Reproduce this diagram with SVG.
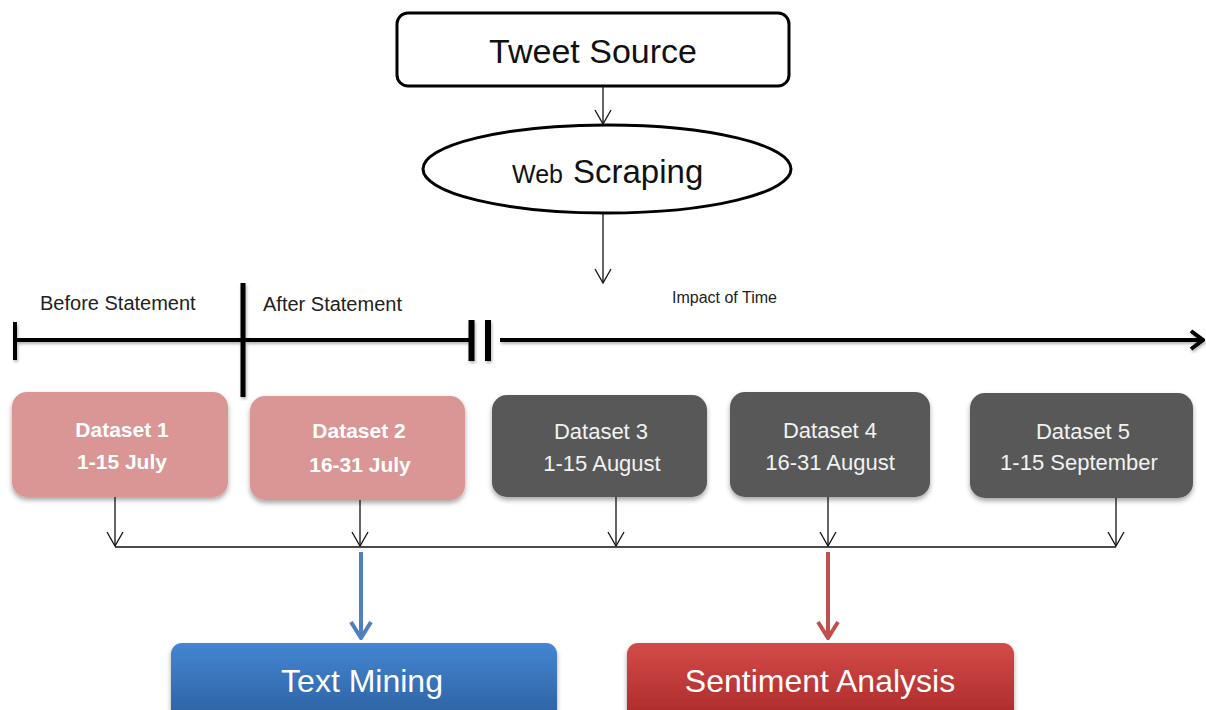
<svg xmlns="http://www.w3.org/2000/svg" width="1206" height="710" viewBox="0 0 1206 710">
  <style>
    text { font-family: "Liberation Sans", Arial, sans-serif; }
    .title { font-size: 34px; fill: #111; }
    .label { font-size: 20px; fill: #222; }
    .pinkbox { fill: #d99694; }
    .graybox { fill: #595959; }
    .pinktxt { font-size: 21px; font-weight: bold; fill: #ffffff; text-anchor: middle; }
    .graytxt { font-size: 22px; fill: #f2f2f2; text-anchor: middle; }
    .thin { stroke: #111; stroke-width: 1.3; fill: none; }
    .thick { stroke: #000; fill: none; }
    .outtxt { font-size: 32px; fill: #ffffff; text-anchor: middle; }
  </style>
  <defs>
    <filter id="shadow" x="-10%" y="-10%" width="120%" height="130%">
      <feDropShadow dx="0" dy="3" stdDeviation="2.5" flood-color="#000" flood-opacity="0.35"/>
    </filter>
    <filter id="lshadow" x="-5%" y="-50%" width="110%" height="200%">
      <feDropShadow dx="1" dy="2" stdDeviation="1.5" flood-color="#000" flood-opacity="0.3"/>
    </filter>
    <linearGradient id="gBlue" x1="0" y1="0" x2="0" y2="1">
      <stop offset="0" stop-color="#4486d2"/>
      <stop offset="1" stop-color="#2a5c9c"/>
    </linearGradient>
    <linearGradient id="gRed" x1="0" y1="0" x2="0" y2="1">
      <stop offset="0" stop-color="#d44b49"/>
      <stop offset="1" stop-color="#a62626"/>
    </linearGradient>
    <marker id="vThin" markerUnits="userSpaceOnUse" viewBox="0 0 16 20" markerWidth="16" markerHeight="20" refX="15" refY="10" orient="auto">
      <path d="M1,2 L15,10 L1,18" fill="none" stroke="#111" stroke-width="1.3"/>
    </marker>
    <marker id="vBig" markerUnits="userSpaceOnUse" viewBox="0 0 16 22" markerWidth="16" markerHeight="22" refX="14" refY="11" orient="auto">
      <path d="M2,2 L14,11 L2,20" fill="none" stroke="#000" stroke-width="4"/>
    </marker>
    <marker id="vBlue" markerUnits="userSpaceOnUse" viewBox="0 0 20 24" markerWidth="20" markerHeight="24" refX="18" refY="12" orient="auto">
      <path d="M2,2 L18,12 L2,22" fill="none" stroke="#4f81bd" stroke-width="4"/>
    </marker>
    <marker id="vRed" markerUnits="userSpaceOnUse" viewBox="0 0 20 24" markerWidth="20" markerHeight="24" refX="18" refY="12" orient="auto">
      <path d="M2,2 L18,12 L2,22" fill="none" stroke="#c0504d" stroke-width="4"/>
    </marker>
  </defs>

  <rect width="1206" height="710" fill="#ffffff"/>

  <g id="tweet-source">
    <rect x="397" y="13" width="392" height="73" rx="11" fill="#ffffff" stroke="#000" stroke-width="3"/>
    <text class="title" x="593" y="63" text-anchor="middle">Tweet Source</text>
  </g>

  <g id="web-scraping">
    <ellipse cx="607" cy="169" rx="184" ry="44" fill="#ffffff" stroke="#000" stroke-width="3"/>
    <text x="512" y="183" fill="#111"><tspan font-size="25">Web</tspan><tspan x="573" font-size="33">Scraping</tspan></text>
  </g>

  <g id="timeline" filter="url(#lshadow)">
    <line class="thick" x1="15" y1="322" x2="15" y2="360" stroke-width="4"/>
    <line class="thick" x1="15" y1="340" x2="470" y2="340" stroke-width="4"/>
    <line class="thick" x1="243" y1="283" x2="243" y2="397" stroke-width="5"/>
    <line class="thick" x1="471.5" y1="320" x2="471.5" y2="361" stroke-width="6"/>
    <line class="thick" x1="488" y1="320" x2="488" y2="361" stroke-width="6"/>
    <line class="thick" x1="500" y1="340" x2="1203" y2="340" stroke-width="4" marker-end="url(#vBig)"/>
  </g>
  <g id="timeline-labels">
    <text class="label" x="40" y="310">Before Statement</text>
    <text class="label" x="263" y="311">After Statement</text>
    <text x="672" y="303" font-size="16" fill="#222">Impact of Time</text>
  </g>

  <g id="dataset-1">
    <rect class="pinkbox" x="12" y="392" width="216" height="105" rx="15" filter="url(#shadow)"/>
    <text class="pinktxt" x="122" y="437">Dataset 1</text>
    <text class="pinktxt" x="122" y="469">1-15 July</text>
  </g>
  <g id="dataset-2">
    <rect class="pinkbox" x="250" y="396" width="215" height="104" rx="15" filter="url(#shadow)"/>
    <text class="pinktxt" x="359" y="438">Dataset 2</text>
    <text class="pinktxt" x="360" y="472">16-31 July</text>
  </g>
  <g id="dataset-3">
    <rect class="graybox" x="492" y="395" width="215" height="102" rx="15" filter="url(#shadow)"/>
    <text class="graytxt" x="601" y="439">Dataset 3</text>
    <text class="graytxt" x="602" y="471">1-15 August</text>
  </g>
  <g id="dataset-4">
    <rect class="graybox" x="730" y="392" width="200" height="105" rx="15" filter="url(#shadow)"/>
    <text class="graytxt" x="830" y="438">Dataset 4</text>
    <text class="graytxt" x="830" y="470">16-31 August</text>
  </g>
  <g id="dataset-5">
    <rect class="graybox" x="970" y="393" width="223" height="105" rx="15" filter="url(#shadow)"/>
    <text class="graytxt" x="1083" y="439">Dataset 5</text>
    <text class="graytxt" x="1079" y="470">1-15 September</text>
  </g>

  <g id="text-mining">
    <rect x="171" y="643" width="386" height="85" rx="11" fill="url(#gBlue)" filter="url(#shadow)"/>
    <text class="outtxt" x="362" y="692">Text Mining</text>
  </g>
  <g id="sentiment-analysis">
    <rect x="627" y="643" width="387" height="85" rx="11" fill="url(#gRed)" filter="url(#shadow)"/>
    <text class="outtxt" x="820" y="692">Sentiment Analysis</text>
  </g>

  <g id="connectors">
    <line class="thin" x1="603" y1="86" x2="603" y2="124" marker-end="url(#vThin)"/>
    <line class="thin" x1="603" y1="213" x2="603" y2="283" marker-end="url(#vThin)"/>
    <line class="thin" x1="115" y1="497" x2="115" y2="546" marker-end="url(#vThin)"/>
    <line class="thin" x1="360" y1="500" x2="360" y2="546" marker-end="url(#vThin)"/>
    <line class="thin" x1="616" y1="497" x2="616" y2="546" marker-end="url(#vThin)"/>
    <line class="thin" x1="828" y1="497" x2="828" y2="546" marker-end="url(#vThin)"/>
    <line class="thin" x1="1116" y1="498" x2="1116" y2="546" marker-end="url(#vThin)"/>
    <line class="thin" x1="115" y1="547" x2="1116" y2="547"/>
    <line x1="361" y1="552" x2="361" y2="638" stroke="#4f81bd" stroke-width="4" marker-end="url(#vBlue)"/>
    <line x1="828" y1="552" x2="828" y2="638" stroke="#c0504d" stroke-width="4" marker-end="url(#vRed)"/>
  </g>
</svg>
